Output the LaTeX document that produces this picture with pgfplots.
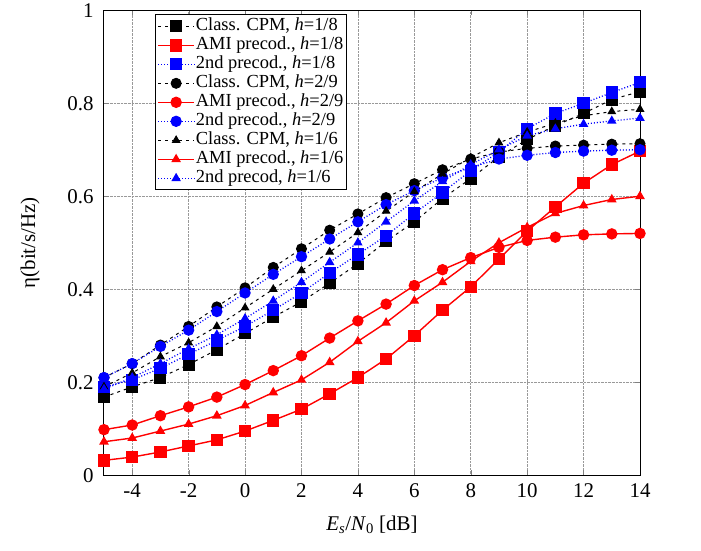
\documentclass[border=0pt]{standalone}
\usepackage{fontspec}
\setmainfont{Liberation Serif}
\usepackage{pgfplots}
\pgfplotsset{compat=1.18}
\begin{document}
\begin{tikzpicture}[font=\fontsize{21}{24}\selectfont]
\begin{axis}[
    scale only axis,
    width=536bp, height=465bp,
    xmin=-5, xmax=14,
    ymin=0, ymax=1,
    xtick={-4,-2,0,2,4,6,8,10,12,14},
    ytick={0,0.2,0.4,0.6,0.8,1},
    yticklabels={0,0.2,0.4,0.6,0.8,1},
    /pgf/number format/assume math mode=true,
    tick label style={font=\fontsize{21}{24}\selectfont},
    yticklabel style={xshift=-7bp},
    xticklabel style={yshift=-5bp},
    tick align=inside,
    major tick length=5bp,
    grid=major,
    grid style={densely dotted, gray!80, line width=0.7bp},
    axis line style={line width=1bp},
    xlabel={\textit{E}\textsubscript{\textit{s}}/\textit{N}\textsubscript{0} [dB]},
    ylabel={η(bit/s/Hz)},
    xlabel style={at={(rel axis cs:0.5,0)}, anchor=center, yshift=-50bp},
    ylabel style={at={(rel axis cs:0,0.5)}, anchor=center, yshift=74bp},
    legend cell align=left,
    legend style={at={(rel axis cs:0.453,0.991)}, anchor=north east,
        draw=black, line width=0.8bp, font=\fontsize{18.5}{20}\selectfont,
        inner sep=2bp, row sep=0bp,
        nodes={inner sep=1bp, text height=13bp, text depth=4bp}},
    legend image code/.code={\draw[mark repeat=2,mark phase=2,#1]
        plot coordinates {(0bp,0bp) (18bp,0bp) (36bp,0bp)};},
    every axis plot/.append style={line width=1bp},
]
\coordinate (o) at (rel axis cs:0,0);
% Class. CPM h=1/8
\addplot[black, dashed, dash pattern=on 3bp off 4bp, mark=square*, mark size=5.5bp, mark options={solid}]
coordinates {(-5,0.168)(-4,0.19)(-3,0.21)(-2,0.238)(-1,0.27)(0,0.305)(1,0.34)(2,0.373)(3,0.413)(4,0.455)(5,0.503)(6,0.545)(7,0.595)(8,0.638)(9,0.685)(10,0.722)(11,0.752)(12,0.778)(13,0.808)(14,0.825)};
\addlegendentry{Class. CPM, \textit{h}=1/8}
% AMI precod h=1/8
\addplot[red, line width=1.4bp, mark=square*, mark size=5.5bp]
coordinates {(-5,0.032)(-4,0.039)(-3,0.05)(-2,0.063)(-1,0.076)(0,0.095)(1,0.118)(2,0.142)(3,0.175)(4,0.21)(5,0.25)(6,0.30)(7,0.355)(8,0.405)(9,0.465)(10,0.525)(11,0.577)(12,0.628)(13,0.668)(14,0.697)};
\addlegendentry{AMI precod., \textit{h}=1/8}
% 2nd precod h=1/8
\addplot[blue, dotted, line width=1.3bp, mark=square*, mark size=5.5bp, mark options={solid}]
coordinates {(-5,0.19)(-4,0.205)(-3,0.23)(-2,0.26)(-1,0.29)(0,0.32)(1,0.355)(2,0.392)(3,0.435)(4,0.475)(5,0.515)(6,0.563)(7,0.608)(8,0.655)(9,0.695)(10,0.745)(11,0.778)(12,0.8)(13,0.823)(14,0.845)};
\addlegendentry{2nd precod., \textit{h}=1/8}
% Class. CPM h=2/9
\addplot[black, dashed, dash pattern=on 3bp off 4bp, mark=*, mark size=5bp, mark options={solid}]
coordinates {(-5,0.21)(-4,0.24)(-3,0.28)(-2,0.32)(-1,0.362)(0,0.403)(1,0.447)(2,0.487)(3,0.527)(4,0.562)(5,0.597)(6,0.627)(7,0.657)(8,0.68)(9,0.695)(10,0.703)(11,0.708)(12,0.71)(13,0.712)(14,0.713)};
\addlegendentry{Class. CPM, \textit{h}=2/9}
% AMI precod h=2/9
\addplot[red, line width=1.4bp, mark=*, mark size=5bp]
coordinates {(-5,0.098)(-4,0.108)(-3,0.128)(-2,0.147)(-1,0.168)(0,0.195)(1,0.225)(2,0.257)(3,0.295)(4,0.332)(5,0.368)(6,0.408)(7,0.442)(8,0.468)(9,0.49)(10,0.505)(11,0.512)(12,0.517)(13,0.519)(14,0.52)};
\addlegendentry{AMI precod., \textit{h}=2/9}
% 2nd precod h=2/9
\addplot[blue, dotted, line width=1.3bp, mark=*, mark size=5bp, mark options={solid}]
coordinates {(-5,0.21)(-4,0.24)(-3,0.277)(-2,0.312)(-1,0.352)(0,0.392)(1,0.432)(2,0.47)(3,0.508)(4,0.545)(5,0.582)(6,0.612)(7,0.64)(8,0.662)(9,0.68)(10,0.688)(11,0.694)(12,0.697)(13,0.699)(14,0.70)};
\addlegendentry{2nd precod., \textit{h}=2/9}
% Class. CPM h=1/6
\addplot[black, dashed, dash pattern=on 3bp off 4bp, mark=triangle*, mark size=4.2bp, mark options={solid}]
coordinates {(-5,0.19)(-4,0.22)(-3,0.255)(-2,0.285)(-1,0.32)(0,0.36)(1,0.4)(2,0.44)(3,0.48)(4,0.522)(5,0.568)(6,0.61)(7,0.648)(8,0.683)(9,0.715)(10,0.738)(11,0.757)(12,0.773)(13,0.782)(14,0.787)};
\addlegendentry{Class. CPM, \textit{h}=1/6}
% AMI precod h=1/6
\addplot[red, line width=1.4bp, mark=triangle*, mark size=4.2bp]
coordinates {(-5,0.072)(-4,0.08)(-3,0.095)(-2,0.11)(-1,0.128)(0,0.15)(1,0.178)(2,0.205)(3,0.243)(4,0.288)(5,0.328)(6,0.375)(7,0.415)(8,0.46)(9,0.5)(10,0.533)(11,0.563)(12,0.58)(13,0.593)(14,0.6)};
\addlegendentry{AMI precod., \textit{h}=1/6}
% 2nd precod h=1/6
\addplot[blue, dotted, line width=1.3bp, mark=triangle*, mark size=4.2bp, mark options={solid}]
coordinates {(-5,0.185)(-4,0.21)(-3,0.24)(-2,0.272)(-1,0.302)(0,0.337)(1,0.375)(2,0.415)(3,0.458)(4,0.5)(5,0.545)(6,0.59)(7,0.632)(8,0.668)(9,0.7)(10,0.73)(11,0.745)(12,0.755)(13,0.762)(14,0.768)};
\addlegendentry{2nd precod, \textit{h}=1/6}
\end{axis}
\path (o) ++(-104bp,-75bp) rectangle ++(701bp,550bp);
\end{tikzpicture}
\end{document}
